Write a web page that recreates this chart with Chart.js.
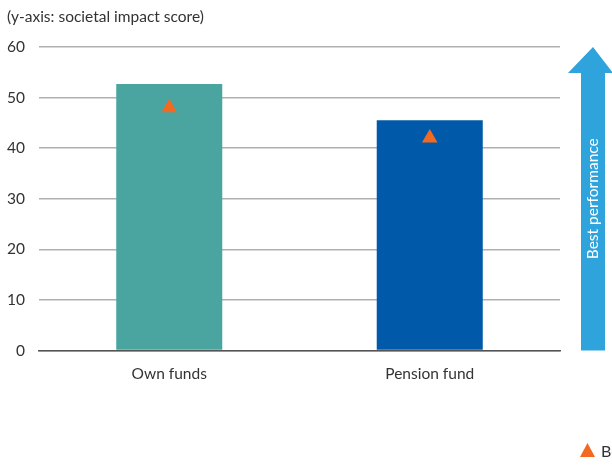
<!DOCTYPE html>
<html>
<head>
<meta charset="utf-8">
<script src="https://cdn.jsdelivr.net/npm/chart.js@4"></script>
<style>
  html, body { margin: 0; padding: 0; background: #fff; overflow: hidden; }
  #wrap { width: 612px; height: 468px; }
</style>
</head>
<body>
<div id="wrap"><canvas id="myChart"></canvas></div>
<script>
const categories = ['Own funds', 'Pension fund'];
const scoreValues = [52.7, 45.5];
const benchmarkValues = [48, 42];
const yTicks = [0, 10, 20, 30, 40, 50, 60];
const axisNote = '(y-axis: societal impact score)';
const arrowText = 'Best performance';
const benchmarkLabel = 'Benchmark';

const FONT = 'Lato, "Open Sans", sans-serif';
const ORANGE = '#f26a21';

// title, "best performance" arrow and the benchmark key are drawn by hand
const extras = {
  id: 'extras',
  afterDraw(chart) {
    const c = chart.ctx;
    const y = chart.scales.y;
    const area = chart.chartArea;
    const top = y.getPixelForValue(yTicks[yTicks.length - 1]);
    const bottom = y.getPixelForValue(yTicks[0]);

    c.save();
    c.fillStyle = '#333';
    c.font = '15.5px ' + FONT;
    c.textBaseline = 'middle';
    c.textAlign = 'left';
    c.fillText(axisNote, 7, 17);

    // arrow
    const l = area.right;
    c.fillStyle = '#2ea3dc';
    c.beginPath();
    c.moveTo(l + 33, top);
    c.lineTo(l + 53, top + 26);
    c.lineTo(l + 45, top + 26);
    c.lineTo(l + 45, bottom);
    c.lineTo(l + 21, bottom);
    c.lineTo(l + 21, top + 26);
    c.lineTo(l + 8, top + 26);
    c.closePath();
    c.fill();

    c.translate(l + 32, (top + bottom) / 2);
    c.rotate(-Math.PI / 2);
    c.fillStyle = '#fff';
    c.font = '15.5px ' + FONT;
    c.textAlign = 'center';
    c.fillText(arrowText, 0, 1);
    c.restore();

    // legend key
    c.save();
    c.fillStyle = ORANGE;
    c.beginPath();
    c.moveTo(587.5, 443);
    c.lineTo(595, 457);
    c.lineTo(580, 457);
    c.closePath();
    c.fill();
    c.fillStyle = '#333';
    c.font = '16px ' + FONT;
    c.textBaseline = 'middle';
    c.fillText(benchmarkLabel, 601, 452);
    c.restore();
  }
};

const ctx = document.getElementById('myChart').getContext('2d');
new Chart(ctx, {
  type: 'bar',
  data: {
    labels: categories,
    datasets: [
      {
        type: 'line',
        label: benchmarkLabel,
        data: benchmarkValues,
        showLine: false,
        pointStyle: 'triangle',
        pointRadius: 9,
        pointHoverRadius: 9,
        backgroundColor: ORANGE,
        borderColor: ORANGE,
        borderWidth: 0,
        order: 0,
      },
      {
        label: 'Score',
        data: scoreValues,
        backgroundColor: ['#4aa5a0', '#005aa9'],
        barPercentage: 1,
        categoryPercentage: 0.407,
        order: 1,
      },
    ],
  },
  options: {
    responsive: true,
    maintainAspectRatio: false,
    animation: false,
    devicePixelRatio: 1,
    layout: { padding: { top: 47, right: 52, left: 0, bottom: 0 } },
    plugins: {
      legend: { display: false },
      title: { display: false },
      tooltip: { enabled: false },
    },
    scales: {
      x: {
        grid: { display: false },
        border: { color: '#555', width: 1.5 },
        ticks: { color: '#333', padding: 6, font: { family: FONT, size: 15.5 } },
        afterFit(scale) { scale.height = 117.5; },
      },
      y: {
        min: 0,
        max: 60,
        afterBuildTicks(scale) { scale.ticks = yTicks.map(v => ({ value: v })); },
        grid: { color: '#b0b0b0', lineWidth: 1.5, drawTicks: false },
        border: { display: false },
        ticks: { color: '#333', padding: 14, font: { family: FONT, size: 15.5 } },
        afterFit(scale) { scale.width = 39; },
      },
    },
  },
  plugins: [extras],
});
</script>
</body>
</html>
